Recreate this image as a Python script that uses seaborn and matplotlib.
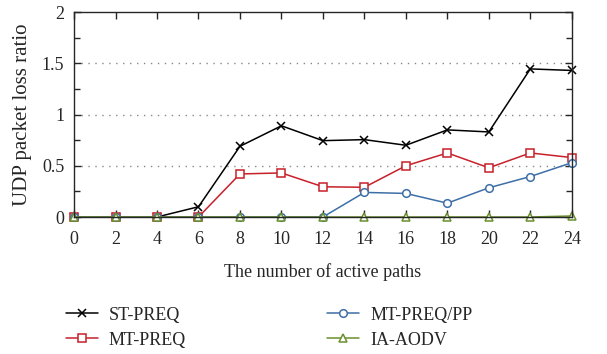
import matplotlib
matplotlib.use("Agg")
import matplotlib.pyplot as plt
from matplotlib.ticker import MultipleLocator
import numpy as np
import pandas as pd
import seaborn as sns

# data
paths = [0, 2, 4, 6, 8, 10, 12, 14, 16, 18, 20, 22, 24]
st_preq = [0, 0, 0, 0.10, 0.69, 0.89, 0.745, 0.755, 0.70, 0.85, 0.83, 1.445, 1.43]
mt_preq = [0, 0, 0, 0, 0.42, 0.43, 0.295, 0.29, 0.50, 0.625, 0.48, 0.625, 0.58]
mt_preq_pp = [0, 0, 0, 0, 0, 0, 0, 0.24, 0.23, 0.135, 0.285, 0.395, 0.53]
ia_aodv = [0, 0, 0, 0, 0, 0, 0, 0, 0, 0, 0, 0, 0.01]

series = ["ST-PREQ", "MT-PREQ", "MT-PREQ/PP", "IA-AODV"]
values = [st_preq, mt_preq, mt_preq_pp, ia_aodv]
colors = ["#000000", "#c8202a", "#3d6fa6", "#6a8f2e"]
markers = ["x", "s", "o", "^"]

df = pd.DataFrame({"paths": paths * 4,
                   "ratio": sum(values, []),
                   "method": np.repeat(series, len(paths))})

sns.set_style("ticks")
plt.rcParams["font.family"] = ["Liberation Serif", "DejaVu Serif"]

fig = plt.figure(figsize=(6.07, 3.54), dpi=100)
ax = fig.add_axes([0.122, 0.387, 0.820, 0.579])

for name, col, mk in zip(series, colors, markers):
    sub = df[df["method"] == name]
    sns.lineplot(data=sub, x="paths", y="ratio", ax=ax, color=col, marker=mk,
                 markersize=5.5, markerfacecolor="white",
                 markeredgecolor=col, markeredgewidth=1.1, linewidth=1.1,
                 label=name, legend=False, clip_on=False)

ax.set_xlim(0, 24)
ax.set_ylim(0, 2)
ax.xaxis.set_major_locator(MultipleLocator(2))
ax.yaxis.set_minor_locator(MultipleLocator(0.25))
ax.set_yticks([0, 0.5, 1, 1.5, 2])
ax.set_yticklabels(["0", "0.5", "1", "1.5", "2"])
ax.tick_params(which="both", direction="in", top=True, right=True, labelsize=13,
               width=1)
ax.tick_params(axis="x", pad=10)
ax.tick_params(axis="y", pad=7)
ax.tick_params(which="major", length=5)
ax.tick_params(which="minor", length=4)
for s in ax.spines.values():
    s.set_linewidth(1.0)
for yv in [0.5, 1.0, 1.5]:
    ax.axhline(yv, color="#888888", linestyle=(0, (1, 4)), linewidth=1.0, zorder=0)

ax.set_xlabel("The number of active paths", fontsize=13, labelpad=11)
ax.set_ylabel("UDP packet loss ratio", fontsize=15, labelpad=7)

handles, labels = ax.get_legend_handles_labels()
order = [labels.index(n) for n in series]
fig.legend([handles[i] for i in order], [labels[i] for i in order],
           loc="upper left", bbox_to_anchor=(0.108, 0.134), bbox_transform=fig.transFigure,
           ncol=2, frameon=False, fontsize=13, handlelength=1.8, handletextpad=0.6,
           columnspacing=7.8, labelspacing=0.45, borderaxespad=0, borderpad=0)

fig.savefig("out.png", dpi=100)
